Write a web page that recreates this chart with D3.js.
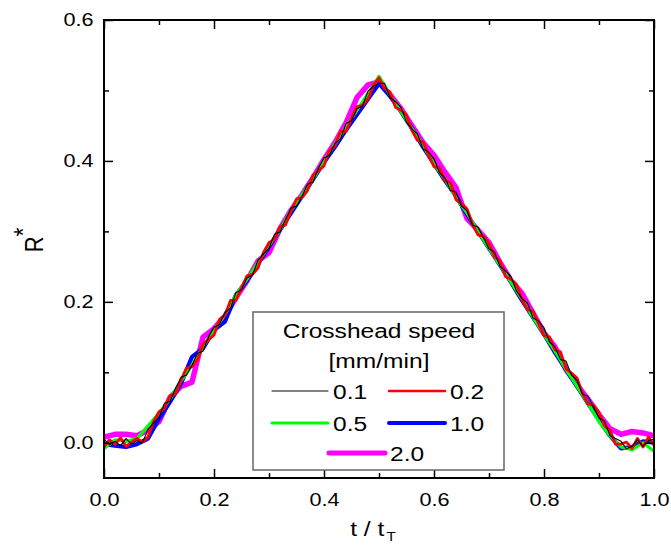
<!DOCTYPE html>
<meta charset="utf-8">
<head>
  <title>R* vs t/tT</title>
  <style>
    body { margin: 0; background: #fff; }
    svg text { font-family: Arial, "Liberation Sans", sans-serif; fill: #000; }
  </style>
  <script src="https://d3js.org/d3.v7.min.js"></script>
</head>
<body>
  <div id="content"></div>
  <script>
    // t / tT sampling grids
    var tFine = d3.range(0, 101).map(function (i) { return i / 100; });
    var tCoarse = d3.range(0, 51).map(function (i) { return i / 50; });

    // R* values
    var r01 = [0.005, -0.003, 0.002, -0.004, 0.006, -0.002, 0.003, 0.000, 0.019, 0.028,
      0.036, 0.056, 0.059, 0.077, 0.093, 0.096, 0.110, 0.127, 0.130, 0.150,
      0.164, 0.168, 0.185, 0.191, 0.213, 0.217, 0.234, 0.238, 0.259, 0.268,
      0.276, 0.296, 0.299, 0.317, 0.333, 0.336, 0.350, 0.367, 0.370, 0.390,
      0.404, 0.408, 0.425, 0.431, 0.453, 0.457, 0.474, 0.478, 0.499, 0.506,
      0.510, 0.510, 0.490, 0.484, 0.476, 0.455, 0.445, 0.438, 0.417, 0.413,
      0.403, 0.383, 0.376, 0.358, 0.356, 0.336, 0.329, 0.309, 0.306, 0.291,
      0.275, 0.271, 0.250, 0.244, 0.236, 0.215, 0.205, 0.198, 0.177, 0.173,
      0.163, 0.143, 0.136, 0.118, 0.116, 0.096, 0.089, 0.069, 0.066, 0.051,
      0.035, 0.031, 0.010, 0.006, 0.002, -0.009, -0.005, 0.004, -0.005, 0.003,
      0.005];
    var r02 = [-0.006, 0.004, -0.002, 0.007, -0.005, 0.001, 0.006, 0.001, 0.008, 0.030,
      0.044, 0.049, 0.067, 0.069, 0.089, 0.106, 0.108, 0.118, 0.140, 0.146,
      0.153, 0.175, 0.181, 0.202, 0.202, 0.220, 0.237, 0.239, 0.248, 0.270,
      0.284, 0.289, 0.307, 0.309, 0.329, 0.346, 0.348, 0.358, 0.380, 0.386,
      0.393, 0.415, 0.421, 0.442, 0.442, 0.460, 0.477, 0.479, 0.488, 0.508,
      0.518, 0.503, 0.498, 0.476, 0.472, 0.465, 0.443, 0.429, 0.427, 0.409,
      0.392, 0.390, 0.372, 0.369, 0.345, 0.339, 0.332, 0.310, 0.295, 0.293,
      0.283, 0.264, 0.258, 0.236, 0.232, 0.225, 0.203, 0.189, 0.187, 0.169,
      0.152, 0.150, 0.132, 0.129, 0.105, 0.099, 0.092, 0.070, 0.055, 0.053,
      0.043, 0.024, 0.018, -0.002, -0.002, 0.001, -0.008, 0.006, -0.006, 0.008,
      -0.004];
    var r05 = [-0.008, 0.004, 0.002, 0.006, 0.024, 0.042, 0.062, 0.088, 0.110, 0.136,
      0.160, 0.182, 0.210, 0.232, 0.256, 0.280, 0.302, 0.330, 0.352, 0.374,
      0.400, 0.424, 0.448, 0.472, 0.496, 0.520, 0.494, 0.470, 0.446, 0.422,
      0.396, 0.374, 0.348, 0.326, 0.300, 0.276, 0.252, 0.228, 0.204, 0.178,
      0.154, 0.130, 0.104, 0.080, 0.056, 0.030, 0.010, -0.006, -0.010, 0.000,
      -0.012];
    var r10 = [-0.002, -0.004, -0.006, -0.002, 0.006, 0.034, 0.058, 0.084, 0.122, 0.134,
      0.160, 0.172, 0.210, 0.230, 0.254, 0.278, 0.302, 0.326, 0.350, 0.374,
      0.398, 0.420, 0.444, 0.466, 0.488, 0.510, 0.492, 0.470, 0.446, 0.420,
      0.396, 0.372, 0.350, 0.324, 0.300, 0.276, 0.252, 0.228, 0.202, 0.178,
      0.154, 0.128, 0.104, 0.080, 0.056, 0.032, 0.010, -0.008, -0.006, 0.002,
      0.000];
    var r20 = [0.008, 0.012, 0.012, 0.010, 0.018, 0.030, 0.064, 0.080, 0.086, 0.150,
      0.162, 0.180, 0.206, 0.230, 0.258, 0.270, 0.304, 0.330, 0.352, 0.376,
      0.402, 0.426, 0.454, 0.490, 0.508, 0.512, 0.494, 0.474, 0.450, 0.426,
      0.408, 0.384, 0.362, 0.318, 0.302, 0.284, 0.256, 0.230, 0.212, 0.184,
      0.156, 0.136, 0.104, 0.082, 0.062, 0.040, 0.020, 0.012, 0.016, 0.014,
      0.010];

    var xTicks = [0, 0.2, 0.4, 0.6, 0.8, 1.0];
    var xMinor = [0.1, 0.3, 0.5, 0.7, 0.9];
    var yTicks = [0, 0.2, 0.4, 0.6];
    var yMinor = [0.1, 0.3, 0.5];

    var series = [
      { label: '2.0', t: tCoarse, v: r20, color: '#ff00ff', width: 5, plotWidth: 5.5 },
      { label: '1.0', t: tCoarse, v: r10, color: '#0000ff', width: 4, plotWidth: 4.2 },
      { label: '0.5', t: tCoarse, v: r05, color: '#00ff00', width: 3, plotWidth: 3.2 },
      { label: '0.2', t: tFine, v: r02, color: '#ff0000', width: 2.5, plotWidth: 2.8 },
      { label: '0.1', t: tFine, v: r01, color: '#000000', width: 1, plotWidth: 1.1 }
    ];

    var width = 671, height = 550;
    var margin = { left: 104, right: 17, top: 20, bottom: 72 };
    var stretch = 'scale(1.17,1)'; // the original text is a little wider than Arial

    var svg = d3.select('#content').append('svg')
      .attr('width', width)
      .attr('height', height);

    var x = d3.scaleLinear().domain([0, 1]).range([margin.left, width - margin.right]);
    var y = d3.scaleLinear().domain([-0.05, 0.6]).range([height - margin.bottom, margin.top]);

    var plotBottom = y(-0.05), plotTop = y(0.6), plotLeft = x(0), plotRight = x(1);

    svg.append('clipPath').attr('id', 'clip')
      .append('rect')
      .attr('x', plotLeft).attr('y', plotTop)
      .attr('width', plotRight - plotLeft).attr('height', plotBottom - plotTop);

    var line = d3.line()
      .x(function (d) { return x(d[0]); })
      .y(function (d) { return y(d[1]); });

    svg.append('g').attr('clip-path', 'url(#clip)')
      .selectAll('path')
      .data(series)
      .enter().append('path')
      .attr('fill', 'none')
      .attr('stroke', function (d) { return d.color; })
      .attr('stroke-width', function (d) { return d.plotWidth; })
      .attr('stroke-linejoin', 'round')
      .attr('d', function (d) { return line(d.t.map(function (t, i) { return [t, d.v[i]]; })); });

    var fmt = d3.format('.1f');
    function styleAxis(g) {
      g.select('.domain').remove();
      g.selectAll('line').attr('stroke', '#000').attr('stroke-width', 1.5);
      g.selectAll('text').attr('font-size', 18.5).attr('transform', stretch);
    }

    // ticks point inward on all four sides
    [
      [d3.axisTop(x).tickValues(xTicks).tickSize(9), 0, plotBottom],
      [d3.axisTop(x).tickValues(xMinor).tickSize(5), 0, plotBottom],
      [d3.axisBottom(x).tickValues(xTicks).tickSize(9), 0, plotTop],
      [d3.axisBottom(x).tickValues(xMinor).tickSize(5), 0, plotTop],
      [d3.axisRight(y).tickValues(yTicks).tickSize(9), plotLeft, 0],
      [d3.axisRight(y).tickValues(yMinor).tickSize(5), plotLeft, 0],
      [d3.axisLeft(y).tickValues(yTicks).tickSize(9), plotRight, 0],
      [d3.axisLeft(y).tickValues(yMinor).tickSize(5), plotRight, 0]
    ].forEach(function (a) {
      svg.append('g').attr('transform', 'translate(' + a[1] + ',' + a[2] + ')')
        .call(a[0].tickFormat(''))
        .call(styleAxis);
    });

    svg.append('g').attr('transform', 'translate(0,' + plotBottom + ')')
      .call(d3.axisBottom(x).tickValues(xTicks).tickSize(0).tickPadding(15).tickFormat(fmt))
      .call(styleAxis);
    svg.append('g').attr('transform', 'translate(' + plotLeft + ',0)')
      .call(d3.axisLeft(y).tickValues(yTicks).tickSize(0).tickPadding(9).tickFormat(fmt))
      .call(styleAxis);

    svg.append('rect')
      .attr('x', plotLeft).attr('y', plotTop)
      .attr('width', plotRight - plotLeft).attr('height', plotBottom - plotTop)
      .attr('fill', 'none').attr('stroke', '#000').attr('stroke-width', 2);

    function addText(parent, px, py, str, size, anchor) {
      return parent.append('text')
        .attr('transform', 'translate(' + px + ',' + py + ') ' + stretch)
        .attr('text-anchor', anchor || 'start')
        .attr('font-size', size)
        .text(str);
    }

    // axis titles
    var xt = addText(svg, 373, 536, 't / t', 21, 'middle');
    xt.append('tspan').attr('font-size', 13).attr('dx', 2).attr('dy', 5).text('T');

    var yt = svg.append('text')
      .attr('transform', 'translate(43,240) scale(1.17,1) rotate(-90)')
      .attr('text-anchor', 'middle')
      .attr('font-size', 22);
    yt.append('tspan').text('R');
    yt.append('tspan').attr('dy', -9).text('*');

    // legend
    var legend = svg.append('g');
    legend.append('rect')
      .attr('x', 253).attr('y', 312).attr('width', 251).attr('height', 158)
      .attr('fill', '#fff').attr('stroke', '#666').attr('stroke-width', 1.5);
    addText(legend, 379, 338, 'Crosshead speed', 21, 'middle');
    addText(legend, 379, 368, '[mm/min]', 21, 'middle');

    var legendPos = {
      '0.1': [272, 391], '0.2': [389, 391],
      '0.5': [272, 423], '1.0': [389, 423],
      '2.0': [329, 453]
    };
    var items = legend.selectAll('g.item')
      .data(series.slice().reverse())
      .enter().append('g')
      .attr('transform', function (d) { return 'translate(' + legendPos[d.label][0] + ',' + legendPos[d.label][1] + ')'; });
    items.append('line')
      .attr('x1', 0).attr('x2', 56).attr('y1', 0).attr('y2', 0)
      .attr('stroke', function (d) { return d.color; })
      .attr('stroke-width', function (d) { return d.width; })
      .attr('stroke-linecap', 'round');
    items.each(function (d) {
      addText(d3.select(this), 61, 8, d.label, 21);
    });
  </script>
</body>
</html>
